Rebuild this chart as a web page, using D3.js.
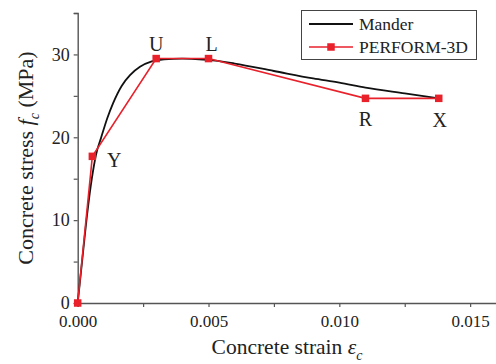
<!DOCTYPE html>
<html>
<head>
<meta charset="utf-8">
<script src="https://cdn.jsdelivr.net/npm/d3@7"></script>
<style>
  html, body { margin: 0; padding: 0; background: #fff; }
  svg { display: block; }
</style>
</head>
<body>
<svg id="chart" width="496" height="364" font-family="Liberation Serif, serif"></svg>
<script>
// Mander confined-concrete model (strain, stress in MPa)
const manderStrain = [0, 0.0002, 0.00038, 0.00054, 0.0007, 0.00089, 0.00113, 0.00135, 0.00168, 0.0020, 0.00238, 0.00283, 0.0033, 0.0040, 0.0045, 0.0050, 0.0060, 0.0075, 0.0090, 0.0100, 0.0110, 0.0125, 0.0138];
const manderStress = [0, 6.0, 11.2, 15.0, 17.9, 19.9, 22.3, 24.1, 26.2, 27.5, 28.5, 29.15, 29.4, 29.5, 29.45, 29.35, 28.9, 28.0, 27.1, 26.6, 26.0, 25.3, 24.7];

// PERFORM-3D multilinear backbone
const performLabels = ["", "Y", "U", "L", "R", "X"];
const performStrain = [0, 0.00056, 0.0030, 0.0050, 0.0110, 0.0138];
const performStress = [0, 17.7, 29.5, 29.5, 24.7, 24.7];

const xMajorTicks = [0, 0.005, 0.010, 0.015];
const xMinorTicks = [0.0025, 0.0075, 0.0125];
const yMajorTicks = [0, 10, 20, 30];
const yMinorTicks = [5, 15, 25, 35];

const seriesNames = ["Mander", "PERFORM-3D"];

const svg = d3.select("#chart");
const plotLeft = 77.7, plotRight = 496.3, plotTop = 13, plotBottom = 303;

const x = d3.scaleLinear().domain([0, 0.016]).range([plotLeft, plotRight]);
const y = d3.scaleLinear().domain([0, 35]).range([plotBottom, plotTop]);

const axisColor = "#555";
const red = "#e8212b";
const serif = "Liberation Serif, serif";

// Axes
const xAxis = d3.axisBottom(x).tickValues(xMajorTicks).tickFormat(d3.format(".3f")).tickSize(4).tickPadding(8);
const xMinor = d3.axisBottom(x).tickValues(xMinorTicks).tickFormat("").tickSize(4);
const yAxis = d3.axisLeft(y).tickValues(yMajorTicks).tickFormat(d3.format("d")).tickSize(4).tickPadding(4);
const yMinor = d3.axisLeft(y).tickValues(yMinorTicks).tickFormat("").tickSize(4);

function styleAxis(size) {
  return g => {
    g.attr("font-family", serif).attr("font-size", size);
    g.select(".domain").attr("stroke", axisColor).attr("stroke-width", 1.4);
    g.selectAll(".tick line").attr("stroke", axisColor).attr("stroke-width", 1.2);
    g.selectAll(".tick text").attr("fill", "#222");
  };
}

svg.append("g").attr("transform", `translate(0,${plotBottom})`).call(xAxis).call(styleAxis(17));
svg.append("g").attr("transform", `translate(0,${plotBottom})`).call(xMinor).call(g => g.select(".domain").remove()).call(styleAxis(17));
svg.append("g").attr("transform", `translate(${plotLeft},0)`).call(yAxis).call(styleAxis(18));
svg.append("g").attr("transform", `translate(${plotLeft},0)`).call(yMinor).call(g => g.select(".domain").remove()).call(styleAxis(18));

// Axis titles
const xt = svg.append("text").attr("x", 287).attr("y", 354).attr("text-anchor", "middle")
  .attr("fill", "#222").attr("font-family", serif).attr("font-size", 21.5);
xt.append("tspan").text("Concrete strain ");
xt.append("tspan").attr("font-style", "italic").text("ε");
xt.append("tspan").attr("dy", 6).attr("font-size", 14).attr("font-style", "italic").text("c");

const yt = svg.append("text").attr("transform", `translate(33,158) rotate(-90)`).attr("text-anchor", "middle")
  .attr("fill", "#222").attr("font-family", serif).attr("font-size", 22);
yt.append("tspan").text("Concrete stress ");
yt.append("tspan").attr("font-style", "italic").text("f");
yt.append("tspan").attr("dy", 6).attr("font-size", 14).attr("font-style", "italic").text("c");
yt.append("tspan").attr("dy", -6).text(" (MPa)");

// Mander curve
const manderData = manderStrain.map((s, i) => ({ s, f: manderStress[i] }));
svg.append("path").datum(manderData)
  .attr("d", d3.line().x(d => x(d.s)).y(d => y(d.f)).curve(d3.curveMonotoneX))
  .attr("fill", "none").attr("stroke", "#111").attr("stroke-width", 1.8);

// PERFORM-3D backbone
const performData = performStrain.map((s, i) => ({ s, f: performStress[i], label: performLabels[i] }));
svg.append("path").datum(performData)
  .attr("d", d3.line().x(d => x(d.s)).y(d => y(d.f)))
  .attr("fill", "none").attr("stroke", red).attr("stroke-width", 1.6);

const ms = 7.5;
svg.selectAll("rect.pt").data(performData).join("rect").attr("class", "pt")
  .attr("x", d => x(d.s) - ms / 2).attr("y", d => y(d.f) - ms / 2)
  .attr("width", ms).attr("height", ms).attr("fill", red);

// Point labels
const labelOffsets = { Y: [22, 11], U: [0, -8], L: [3, -8], R: [0, 28], X: [1, 29] };
svg.selectAll("text.pl").data(performData.filter(d => d.label)).join("text").attr("class", "pl")
  .attr("x", d => x(d.s) + labelOffsets[d.label][0])
  .attr("y", d => y(d.f) + labelOffsets[d.label][1])
  .attr("text-anchor", "middle").attr("fill", "#222")
  .attr("font-family", serif).attr("font-size", 20)
  .text(d => d.label);

// Legend
const lg = svg.append("g");
lg.append("rect").attr("x", 301.5).attr("y", 10.5).attr("width", 175).attr("height", 49)
  .attr("fill", "#fff").attr("stroke", "#444").attr("stroke-width", 1);
lg.append("line").attr("x1", 309).attr("x2", 353).attr("y1", 24).attr("y2", 24).attr("stroke", "#111").attr("stroke-width", 1.8);
lg.append("line").attr("x1", 309).attr("x2", 353).attr("y1", 47).attr("y2", 47).attr("stroke", red).attr("stroke-width", 1.6);
lg.append("rect").attr("x", 331 - ms / 2).attr("y", 47 - ms / 2).attr("width", ms).attr("height", ms).attr("fill", red);
lg.selectAll("text.lt").data(seriesNames).join("text").attr("class", "lt")
  .attr("x", 359).attr("y", (d, i) => 30 + i * 23)
  .attr("fill", "#222").attr("font-family", serif).attr("font-size", 17.5).text(d => d);
</script>
</body>
</html>
